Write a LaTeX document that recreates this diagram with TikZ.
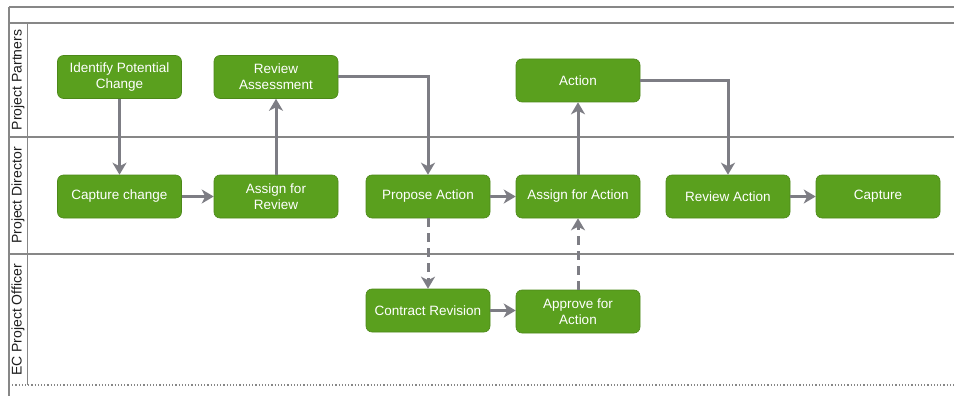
\documentclass[tikz,border=0pt]{standalone}
\usepackage{fontspec}
\setmainfont{Liberation Sans}
\usetikzlibrary{arrows.meta}
\definecolor{boxgreen}{RGB}{90,160,30}
\definecolor{linegray}{RGB}{135,135,135}
\definecolor{arrowgray}{RGB}{125,125,132}
\definecolor{labeltext}{RGB}{30,30,30}
\tikzset{
  stepbox/.style={draw=boxgreen!85!black, line width=0.6pt, fill=boxgreen, rounded corners=6pt,
    minimum width=124pt, minimum height=43pt, inner sep=2pt, align=center, text=white,
    font=\fontsize{13.5}{16}\selectfont},
  flow/.style={draw=arrowgray, line width=3pt, -{Stealth[length=12pt,width=14pt,inset=3.5pt]}},
  dflow/.style={flow, dash pattern=on 9pt off 6pt},
  lane/.style={draw=linegray, line width=1.5pt},
  lanelabel/.style={rotate=90, text=labeltext, font=\fontsize{14}{16}\selectfont}
}
\begin{document}
\begin{tikzpicture}[x=1pt,y=-1pt]
\useasboundingbox (0,0) rectangle (954,396);
\fill[white] (0,0) rectangle (954,396);
% frame and lanes
\draw[lane] (9,7) -- (954,7);
\draw[lane] (9,23) -- (954,23);
\draw[lane] (9,7) -- (9,396);
\draw[lane, line width=1pt] (27,23) -- (27,385);
\draw[lane] (9,137) -- (954,137);
\draw[lane] (9,254) -- (954,254);
\draw[lane, line width=1.2pt, dotted] (9,385) -- (954,385);
% lane labels
\node[lanelabel] (l1) at (18,80) {Project Partners};
\node[lanelabel] (l2) at (18,195.5) {Project Director};
\node[lanelabel] (l3) at (18,320) {EC Project Officer};
% nodes
\node[stepbox] (identify) at (119.5,77) {Identify Potential\\Change};
\node[stepbox] (revass) at (276,77) {Review\\Assessment};
\node[stepbox] (action) at (578,80.5) {Action};
\node[stepbox] (capchange) at (119.5,196.5) {Capture change};
\node[stepbox] (assignrev) at (276,196.5) {Assign for\\Review};
\node[stepbox] (propose) at (428,196.5) {Propose Action};
\node[stepbox] (assignact) at (578,196.5) {Assign for Action};
\node[stepbox] (reviewact) at (728,196.5) {Review Action};
\node[stepbox] (capture) at (878,196.5) {Capture};
\node[stepbox] (contract) at (428,310.5) {Contract Revision};
\node[stepbox] (approve) at (578,311.5) {Approve for\\Action};
% connectors
\draw[flow] (identify) -- (capchange);
\draw[flow] (capchange) -- (assignrev);
\draw[flow] (assignrev) -- (revass);
\draw[flow] (revass.east) -| (propose.north);
\draw[flow] (propose) -- (assignact);
\draw[flow] (assignact) -- (action);
\draw[flow] (action.east) -| (reviewact.north);
\draw[flow] (reviewact) -- (capture);
\draw[dflow] (propose) -- (contract);
\draw[flow] (contract.east) -- (approve.west |- contract.east);
\draw[dflow] (approve) -- (assignact);
\end{tikzpicture}
\end{document}
